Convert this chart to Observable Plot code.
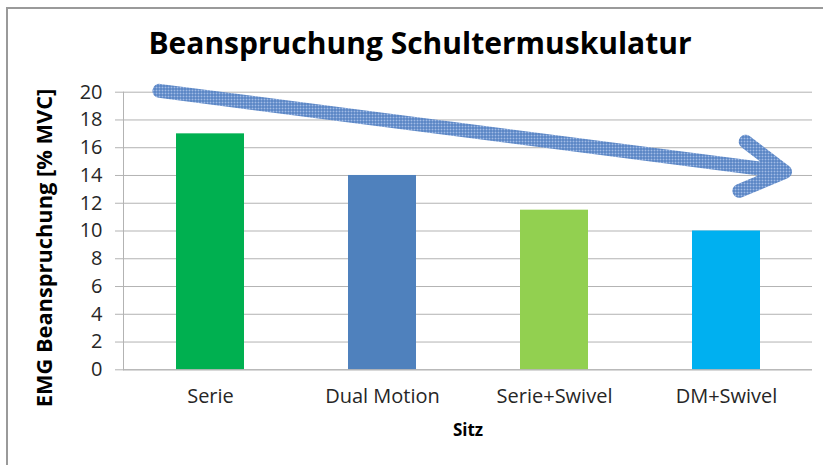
<!DOCTYPE html>
<html><head><meta charset="utf-8">
<script src="https://cdn.jsdelivr.net/npm/d3@7"></script>
<script src="https://cdn.jsdelivr.net/npm/@observablehq/plot@0.6"></script>
<style>
body{margin:0;background:#fff;font-family:"Open Sans",sans-serif;}
#wrap{position:relative;width:823px;height:465px;overflow:hidden;background:#fff;}
#frame{position:absolute;left:6px;top:7px;width:900px;height:900px;border-left:2px solid #9a9a9a;border-top:2px solid #9a9a9a;}
#title{position:absolute;left:0;width:840px;top:23px;text-align:center;font-weight:700;font-size:30px;color:#000;line-height:40px;}
#chart{position:absolute;left:0;top:70px;}
</style></head>
<body><div id="wrap"><div id="frame"></div><div id="title">Beanspruchung Schultermuskulatur</div><div id="chart"></div></div>
<script>
const categories = ["Serie", "Dual Motion", "Serie+Swivel", "DM+Swivel"];
const values = [17, 14, 11.5, 10];
const barColors = ["#00B050", "#4F81BD", "#92D050", "#00B0F0"];
const yTicks = [0, 2, 4, 6, 8, 10, 12, 14, 16, 18, 20];
const yLabel = "EMG Beanspruchung [% MVC]";
const xLabel = "Sitz";
const trendStart = {x: "Serie", y: 19.62};
const trendEnd = {x: "DM+Swivel", y: 14.81};

const data = categories.map((c, i) => ({cat: c, val: values[i]}));
const trend = [{x1: trendStart.x, y1: trendStart.y, x2: trendEnd.x, y2: trendEnd.y}];

const plot = Plot.plot({
  width: 823,
  height: 395,
  marginLeft: 123,
  marginRight: 11,
  marginTop: 21.7,
  marginBottom: 95.7,
  style: {fontFamily: "'Open Sans', sans-serif", fontSize: "20px", color: "#262626", background: "transparent", overflow: "visible"},
  x: {domain: categories, paddingInner: 0.605, paddingOuter: 0.3025, align: 0.5},
  y: {domain: [0, 20]},
  color: {domain: categories, range: barColors},
  marks: [
    Plot.gridY(yTicks, {stroke: "#b3b3b3", strokeOpacity: 1}),
    Plot.barY(data, {x: "cat", y: "val", fill: "cat"}),
    Plot.ruleY([0], {stroke: "#b3b3b3"}),
    Plot.frame({anchor: "left", stroke: "#b3b3b3"}),
    Plot.axisY(yTicks, {tickSize: 8, tickPadding: 13, stroke: "#b3b3b3", fill: "#262626", fontSize: 20, label: null}),
    Plot.axisX({tickSize: 0, tickPadding: 19, fill: "#262626", fontSize: 20, label: null}),
    Plot.text([yLabel], {frameAnchor: "left", text: d => d, rotate: -90, textAnchor: "middle", dx: -78, dy: 17, fontWeight: "bold", fontSize: 21.8, fill: "#000"}),
    Plot.text([xLabel], {frameAnchor: "bottom", text: d => d, dy: 66, fontWeight: "bold", fontSize: 17, fill: "#000"}),
    Plot.arrow(trend, {x1: "x1", y1: "y1", x2: "x2", y2: "y2", stroke: "#6E94CF", strokeWidth: 14, headLength: 5.3, headAngle: 60, insetStart: -51.5, insetEnd: -59, strokeLinecap: "round", strokeLinejoin: "miter", ariaLabel: "trend-arrow"})
  ]
});
document.getElementById("chart").appendChild(plot);

const svg = d3.select(plot);
const pat = svg.insert("defs", ":first-child").append("pattern")
  .attr("id", "hatch").attr("patternUnits", "userSpaceOnUse").attr("width", 3).attr("height", 3);
pat.append("rect").attr("width", 3).attr("height", 3).attr("fill", "#A2BCE5");
pat.append("path").attr("d", "M0 0.5H3M0.5 0V3").attr("stroke", "#4676BC").attr("stroke-width", 1);
svg.selectAll('g[aria-label="trend-arrow"], g[aria-label="arrow"]').attr("stroke", "url(#hatch)")
  .selectAll("path").attr("stroke", "url(#hatch)");
</script>
</body></html>
